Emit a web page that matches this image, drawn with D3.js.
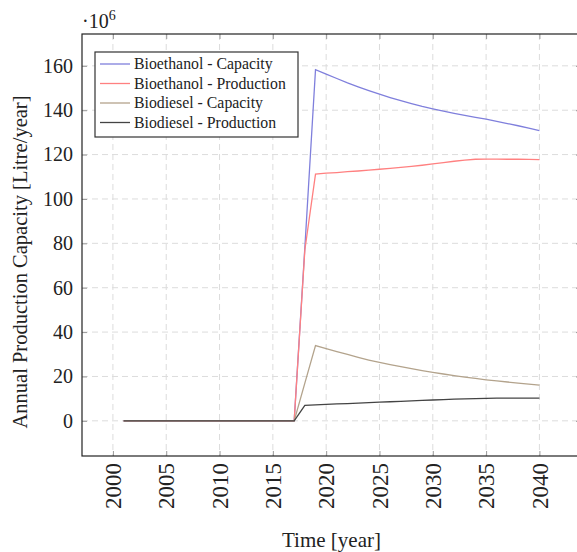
<!DOCTYPE html>
<html><head><meta charset="utf-8">
<script src="https://cdn.jsdelivr.net/npm/d3@7"></script>
<style>body{margin:0;background:#fff}svg{display:block}</style>
</head><body>
<svg id="chart" width="577" height="552"></svg>
<script>
const years = d3.range(2001, 2041);
const zeros17 = new Array(17).fill(0); // 2001..2017
const bioethanolCapacity = zeros17.concat([78, 158.3, 156.3, 154.3, 152.3, 150.5, 148.8, 147.2, 145.7, 144.3, 143.0, 141.7, 140.6, 139.6, 138.6, 137.7, 136.8, 136.0, 135.0, 134.0, 133.0, 131.9, 130.8]);
const bioethanolProduction = zeros17.concat([77, 111.2, 111.6, 111.9, 112.3, 112.6, 113.0, 113.4, 113.8, 114.2, 114.7, 115.2, 115.8, 116.4, 117.0, 117.5, 117.9, 118.0, 118.0, 117.9, 117.9, 117.8, 117.7]);
const biodieselCapacity = zeros17.concat([17, 33.9, 32.5, 31.2, 29.9, 28.6, 27.4, 26.3, 25.3, 24.4, 23.5, 22.6, 21.8, 21.1, 20.4, 19.7, 19.1, 18.5, 18.0, 17.5, 17.0, 16.5, 16.1]);
const biodieselProduction = zeros17.concat([7.0, 7.2, 7.4, 7.6, 7.8, 8.0, 8.2, 8.4, 8.6, 8.8, 9.0, 9.2, 9.4, 9.6, 9.8, 9.9, 10.0, 10.1, 10.2, 10.2, 10.2, 10.2, 10.2]);
const seriesNames = ["Bioethanol - Capacity", "Bioethanol - Production", "Biodiesel - Capacity", "Biodiesel - Production"];
const seriesColors = ["#7f7fdc", "#ff8080", "#b3a38c", "#444444"];
const xTicks = [2000, 2005, 2010, 2015, 2020, 2025, 2030, 2035, 2040];
const yTicks = [0, 20, 40, 60, 80, 100, 120, 140, 160];

const allSeries = [bioethanolCapacity, bioethanolProduction, biodieselCapacity, biodieselProduction];
const svg = d3.select("#chart");
const L = 82, T = 34, R = 581, B = 456;
const font = "Liberation Serif, DejaVu Serif, serif";
const x = d3.scaleLinear().domain([1997.1, 2043.9]).range([L, R]);
const y = d3.scaleLinear().domain([-15.85, 174.35]).range([B, T]);

// grid
const grid = svg.append("g").attr("stroke", "#dcdcdc").attr("stroke-width", 1).attr("stroke-dasharray", "6,4");
grid.selectAll(".gx").data(xTicks).join("line")
  .attr("x1", d => x(d)).attr("x2", d => x(d)).attr("y1", T).attr("y2", B);
grid.selectAll(".gy").data(yTicks).join("line")
  .attr("x1", L).attr("x2", R).attr("y1", d => y(d)).attr("y2", d => y(d));

// axes (ticks inside, labels outside)
const xAxis = svg.append("g").attr("transform", `translate(0,${B})`)
  .call(d3.axisBottom(x).tickValues(xTicks).tickSize(-5).tickPadding(8).tickFormat(d3.format("d")));
xAxis.attr("font-family", font);
xAxis.select(".domain").remove();
xAxis.selectAll(".tick line").attr("stroke", "#999");
xAxis.selectAll(".tick text").attr("font-family", font).attr("font-size", 23).attr("fill", "#222")
  .attr("transform", "rotate(-90)").attr("text-anchor", "end").attr("dy", "0.33em").attr("x", -7).attr("y", 0);

const xTop = svg.append("g").attr("transform", `translate(0,${T})`)
  .call(d3.axisTop(x).tickValues(xTicks).tickSize(-5).tickFormat(""));
xTop.select(".domain").remove();
xTop.selectAll(".tick line").attr("stroke", "#999");

const yAxis = svg.append("g").attr("transform", `translate(${L},0)`)
  .call(d3.axisLeft(y).tickValues(yTicks).tickSize(-5).tickPadding(9));
yAxis.attr("font-family", font);
yAxis.select(".domain").remove();
yAxis.selectAll(".tick line").attr("stroke", "#999");
yAxis.selectAll(".tick text").attr("font-family", font).attr("font-size", 20).attr("fill", "#222");

const yRight = svg.append("g").attr("transform", `translate(${R},0)`)
  .call(d3.axisRight(y).tickValues(yTicks).tickSize(-5).tickFormat(""));
yRight.select(".domain").remove();
yRight.selectAll(".tick line").attr("stroke", "#999");

// lines
const line = d3.line().x((d, i) => x(years[i])).y(d => y(d));
svg.append("g").selectAll("path").data(allSeries).join("path")
  .attr("d", line).attr("fill", "none")
  .attr("stroke", (d, i) => seriesColors[i]).attr("stroke-width", 1.3);

// frame
svg.append("rect").attr("x", L).attr("y", T).attr("width", R - L).attr("height", B - T)
  .attr("fill", "none").attr("stroke", "#222").attr("stroke-width", 1.2);

// legend
const lg = svg.append("g");
lg.append("rect").attr("x", 95).attr("y", 52).attr("width", 203).attr("height", 85)
  .attr("fill", "#fff").attr("stroke", "#333").attr("stroke-width", 1.2);
const rows = lg.selectAll("g.row").data(seriesNames).join("g")
  .attr("transform", (d, i) => `translate(0,${64 + i * 19.5})`);
rows.append("line").attr("x1", 100).attr("x2", 130).attr("y1", 0).attr("y2", 0)
  .attr("stroke", (d, i) => seriesColors[i]).attr("stroke-width", 1.3);
rows.append("text").attr("x", 134).attr("y", 0).attr("dy", "0.33em")
  .attr("font-family", font).attr("font-size", 15.8).attr("fill", "#222").text(d => d);

// multiplier
const mult = svg.append("text").attr("x", 82).attr("y", 28).attr("font-family", font)
  .attr("font-size", 20).attr("fill", "#222");
mult.append("tspan").text("\u00b710");
mult.append("tspan").attr("font-size", 14).attr("dy", -8).text("6");

// axis labels
svg.append("text").attr("x", (L + R) / 2).attr("y", 547).attr("text-anchor", "middle")
  .attr("font-family", font).attr("font-size", 21).attr("fill", "#222").text("Time [year]");
svg.append("text").attr("transform", `translate(27,${(T + B) / 2 + 17}) rotate(-90)`).attr("text-anchor", "middle")
  .attr("font-family", font).attr("font-size", 20.5).attr("fill", "#222")
  .text("Annual Production Capacity [Litre/year]");
</script>
</body></html>
